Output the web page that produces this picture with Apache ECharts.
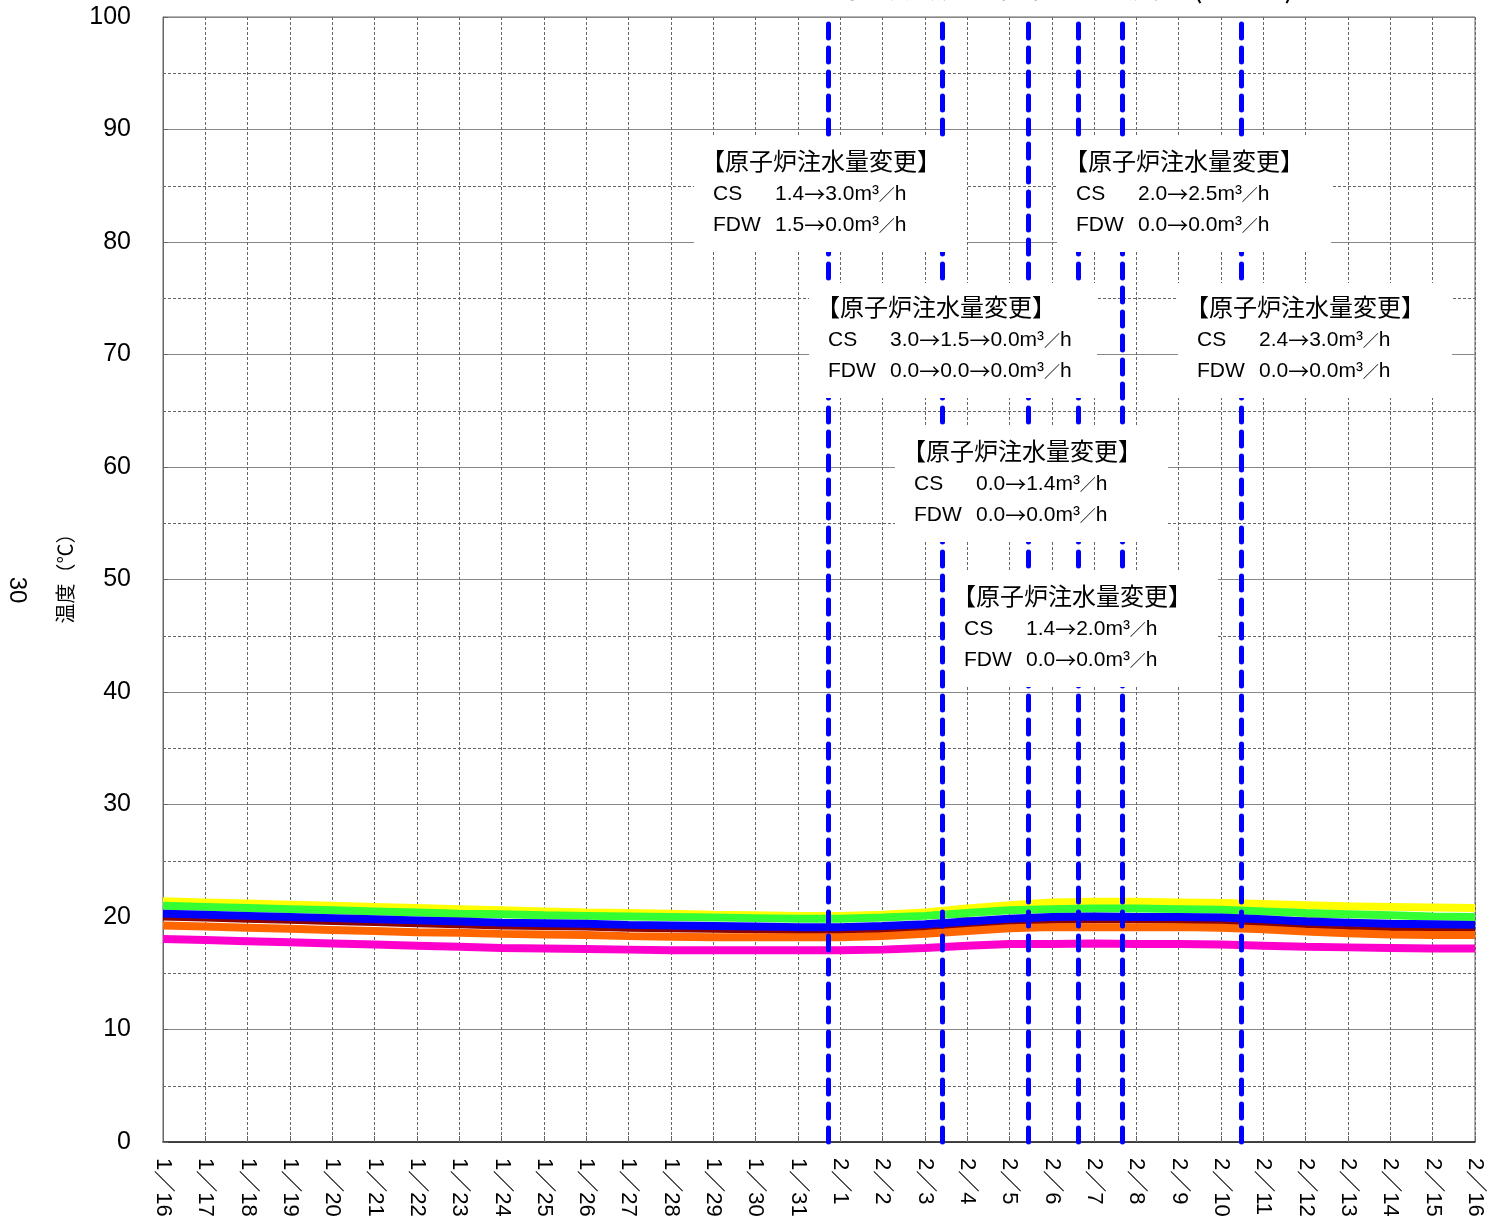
<!DOCTYPE html>
<html><head><meta charset="utf-8">
<script src="https://cdn.jsdelivr.net/npm/echarts@6/dist/echarts.min.js"></script>
<style>html,body{margin:0;padding:0;background:#fff;}#c{width:1494px;height:1231px;}</style>
</head><body><div id="c"></div>
<script>
// x positions: days since 1/16
const days = [0,1,2,3,4,5,6,7,8,9,10,11,12,13,14,15,16,17,18,19,20,21,22,23,24,25,26,27,28,29,30,31];
const dayLabels = ['1／16','1／17','1／18','1／19','1／20','1／21','1／22','1／23','1／24','1／25','1／26','1／27','1／28','1／29','1／30','1／31',
  '2／1','2／2','2／3','2／4','2／5','2／6','2／7','2／8','2／9','2／10','2／11','2／12','2／13','2／14','2／15','2／16'];
const yTicks = [0,10,20,30,40,50,60,70,80,90,100];

const yellowVals  = [21.4,21.3,21.2,21.1,21.0,20.9,20.8,20.7,20.6,20.5,20.4,20.35,20.3,20.2,20.15,20.1,20.1,20.2,20.4,20.75,21.05,21.3,21.35,21.35,21.3,21.25,21.15,21.05,20.95,20.9,20.85,20.8];
const greenVals   = [21.0,20.9,20.8,20.7,20.6,20.5,20.4,20.3,20.25,20.15,20.1,20.05,20.0,19.95,19.9,19.85,19.85,19.95,20.1,20.35,20.6,20.7,20.75,20.75,20.7,20.65,20.5,20.35,20.25,20.15,20.05,20.0];
const maroonVals  = [20.05,19.95,19.85,19.75,19.65,19.55,19.45,19.35,19.25,19.2,19.15,19.05,19.0,18.95,18.9,18.85,18.85,18.95,19.1,19.35,19.6,19.75,19.8,19.8,19.75,19.65,19.45,19.25,19.15,19.05,19.0,18.95];
const blueVals    = [20.3,20.2,20.1,20.0,19.9,19.8,19.7,19.6,19.5,19.45,19.4,19.3,19.25,19.2,19.15,19.1,19.1,19.2,19.35,19.6,19.85,20.0,20.05,20.0,20.0,19.95,19.8,19.6,19.5,19.4,19.35,19.3];
const orangeVals  = [19.25,19.15,19.05,18.95,18.85,18.75,18.65,18.6,18.5,18.45,18.4,18.3,18.25,18.2,18.2,18.2,18.2,18.3,18.5,18.75,19.0,19.1,19.1,19.1,19.1,19.05,18.9,18.7,18.55,18.45,18.4,18.4];
const magentaVals = [18.05,17.95,17.85,17.75,17.65,17.55,17.45,17.35,17.25,17.2,17.15,17.1,17.05,17.05,17.05,17.05,17.05,17.1,17.25,17.45,17.6,17.6,17.65,17.6,17.6,17.55,17.45,17.35,17.3,17.25,17.2,17.2];

// injection-change events (days since 1/16)
const eventDays = [15.71, 18.41, 20.44, 21.62, 22.66, 25.47];

const annTitle = '【原子炉注水量変更】';
const annCS  = ['1.4→3.0m³／h','2.0→2.5m³／h','3.0→1.5→0.0m³／h','2.4→3.0m³／h','0.0→1.4m³／h','1.4→2.0m³／h'];
const annFDW = ['1.5→0.0m³／h','0.0→0.0m³／h','0.0→0.0→0.0m³／h','0.0→0.0m³／h','0.0→0.0m³／h','0.0→0.0m³／h'];
const annBoxes = [[694,137,273],[1057,137,274],[809,283,288],[1178,283,274],[895,427,273],[945,572,273]];

const chart = echarts.init(document.getElementById('c'));
const FONT = '"Liberation Sans", "Noto Sans CJK JP", sans-serif';
const JFONT = '"Noto Sans CJK JP", sans-serif';

function mk(vals){ return days.map((d,i)=>[d, vals[i]]); }
const seriesDefs = [
  ['yellow', yellowVals, '#FFFF00'],
  ['green', greenVals, '#33FF33'],
  ['maroon', maroonVals, '#8B0000'],
  ['blue', blueVals, '#0000FF'],
  ['orange', orangeVals, '#FF6600'],
  ['magenta', magentaVals, '#FF00CC']
];
const series = seriesDefs.map(([n,v,c]) => ({
  name:n, type:'line', data:mk(v), showSymbol:false, symbol:'none',
  lineStyle:{color:c, width:8}, itemStyle:{color:c}, z:3, animation:false
}));
series.push({
  type:'line', data:[], z:5, animation:false,
  markLine:{
    silent:true, symbol:['none','none'], label:{show:false},
    lineStyle:{color:'#0000FF', width:5, type:[14,10], cap:'round'},
    data: eventDays.map(d=>({xAxis:d}))
  }
});

function richVal(s){
  return s.replace(/→/g,'{a|→}').replace(/／/g,'{s|／}');
}
const richStyles = {
  a:{font:'21px '+JFONT, fill:'#000', verticalAlign:'middle'},
  s:{font:'16px '+JFONT, fill:'#000', verticalAlign:'middle'}
};

const graphics = [];
annBoxes.forEach((b,i)=>{
  const [x,y,w] = b;
  graphics.push({type:'rect', left:x, top:y, z:100, shape:{width:w, height:115}, style:{fill:'#fff'}});
  graphics.push({type:'text', x:x+7, y:y+24, z:101, style:{text:annTitle, font:'24px '+JFONT, fill:'#000', verticalAlign:'middle'}});
  graphics.push({type:'text', x:x+19, y:y+57, z:101, style:{text:'CS', font:'21px '+FONT, fill:'#000', verticalAlign:'middle'}});
  graphics.push({type:'text', x:x+81, y:y+57, z:101, style:{text:richVal(annCS[i]), font:'21px '+FONT, fill:'#000', verticalAlign:'middle', rich:richStyles}});
  graphics.push({type:'text', x:x+19, y:y+88, z:101, style:{text:'FDW', font:'21px '+FONT, fill:'#000', verticalAlign:'middle'}});
  graphics.push({type:'text', x:x+81, y:y+88, z:101, style:{text:richVal(annFDW[i]), font:'21px '+FONT, fill:'#000', verticalAlign:'middle', rich:richStyles}});
});
// partially clipped title at top
graphics.push({type:'text', x:1055, y:1, z:101, style:{text:'3号機 実施計画関連温度計(その1)', font:'32px '+JFONT, fill:'#000', align:'center', verticalAlign:'bottom'}});
// stray "30" label at far left
graphics.push({type:'text', x:17, y:590, rotation:-Math.PI/2, z:101, style:{text:'30', font:'24px '+FONT, fill:'#000', align:'center', verticalAlign:'middle'}});

chart.setOption({
  animation:false,
  backgroundColor:'#fff',
  grid:{left:163, right:19, top:17, bottom:89, containLabel:false, show:true, borderColor:'#666', borderWidth:1},
  xAxis:{
    type:'value', min:0, max:31, interval:1,
    axisLine:{show:true, onZero:false, lineStyle:{color:'#222', width:1.5}},
    axisTick:{show:true, inside:true, length:6, lineStyle:{color:'#666'}},
    axisLabel:{rotate:-90, margin:16, fontSize:22, color:'#000', fontFamily:FONT,
      formatter:v=>dayLabels[Math.round(v)] || ''},
    splitLine:{show:true, lineStyle:{color:'#666', type:[3,2], width:1}}
  },
  yAxis:{
    type:'value', min:0, max:100, interval:10,
    name:'温度（℃）', nameLocation:'middle', nameGap:88, nameRotate:90,
    nameTextStyle:{fontSize:20, color:'#000', fontFamily:JFONT, padding:[0,0,0,12]},
    axisLine:{show:true, lineStyle:{color:'#666'}},
    axisTick:{show:true, inside:true, length:5, lineStyle:{color:'#666'}},
    axisLabel:{fontSize:25, color:'#000', margin:32, fontFamily:FONT,
      formatter:v=> yTicks.includes(v) ? String(v) : ''},
    splitLine:{show:true, lineStyle:{color:'#888', width:1}},
    minorTick:{show:false, splitNumber:2},
    minorSplitLine:{show:true, lineStyle:{color:'#666', type:[3,2], width:1}}
  },
  series:series,
  graphic:graphics
});
</script></body></html>
